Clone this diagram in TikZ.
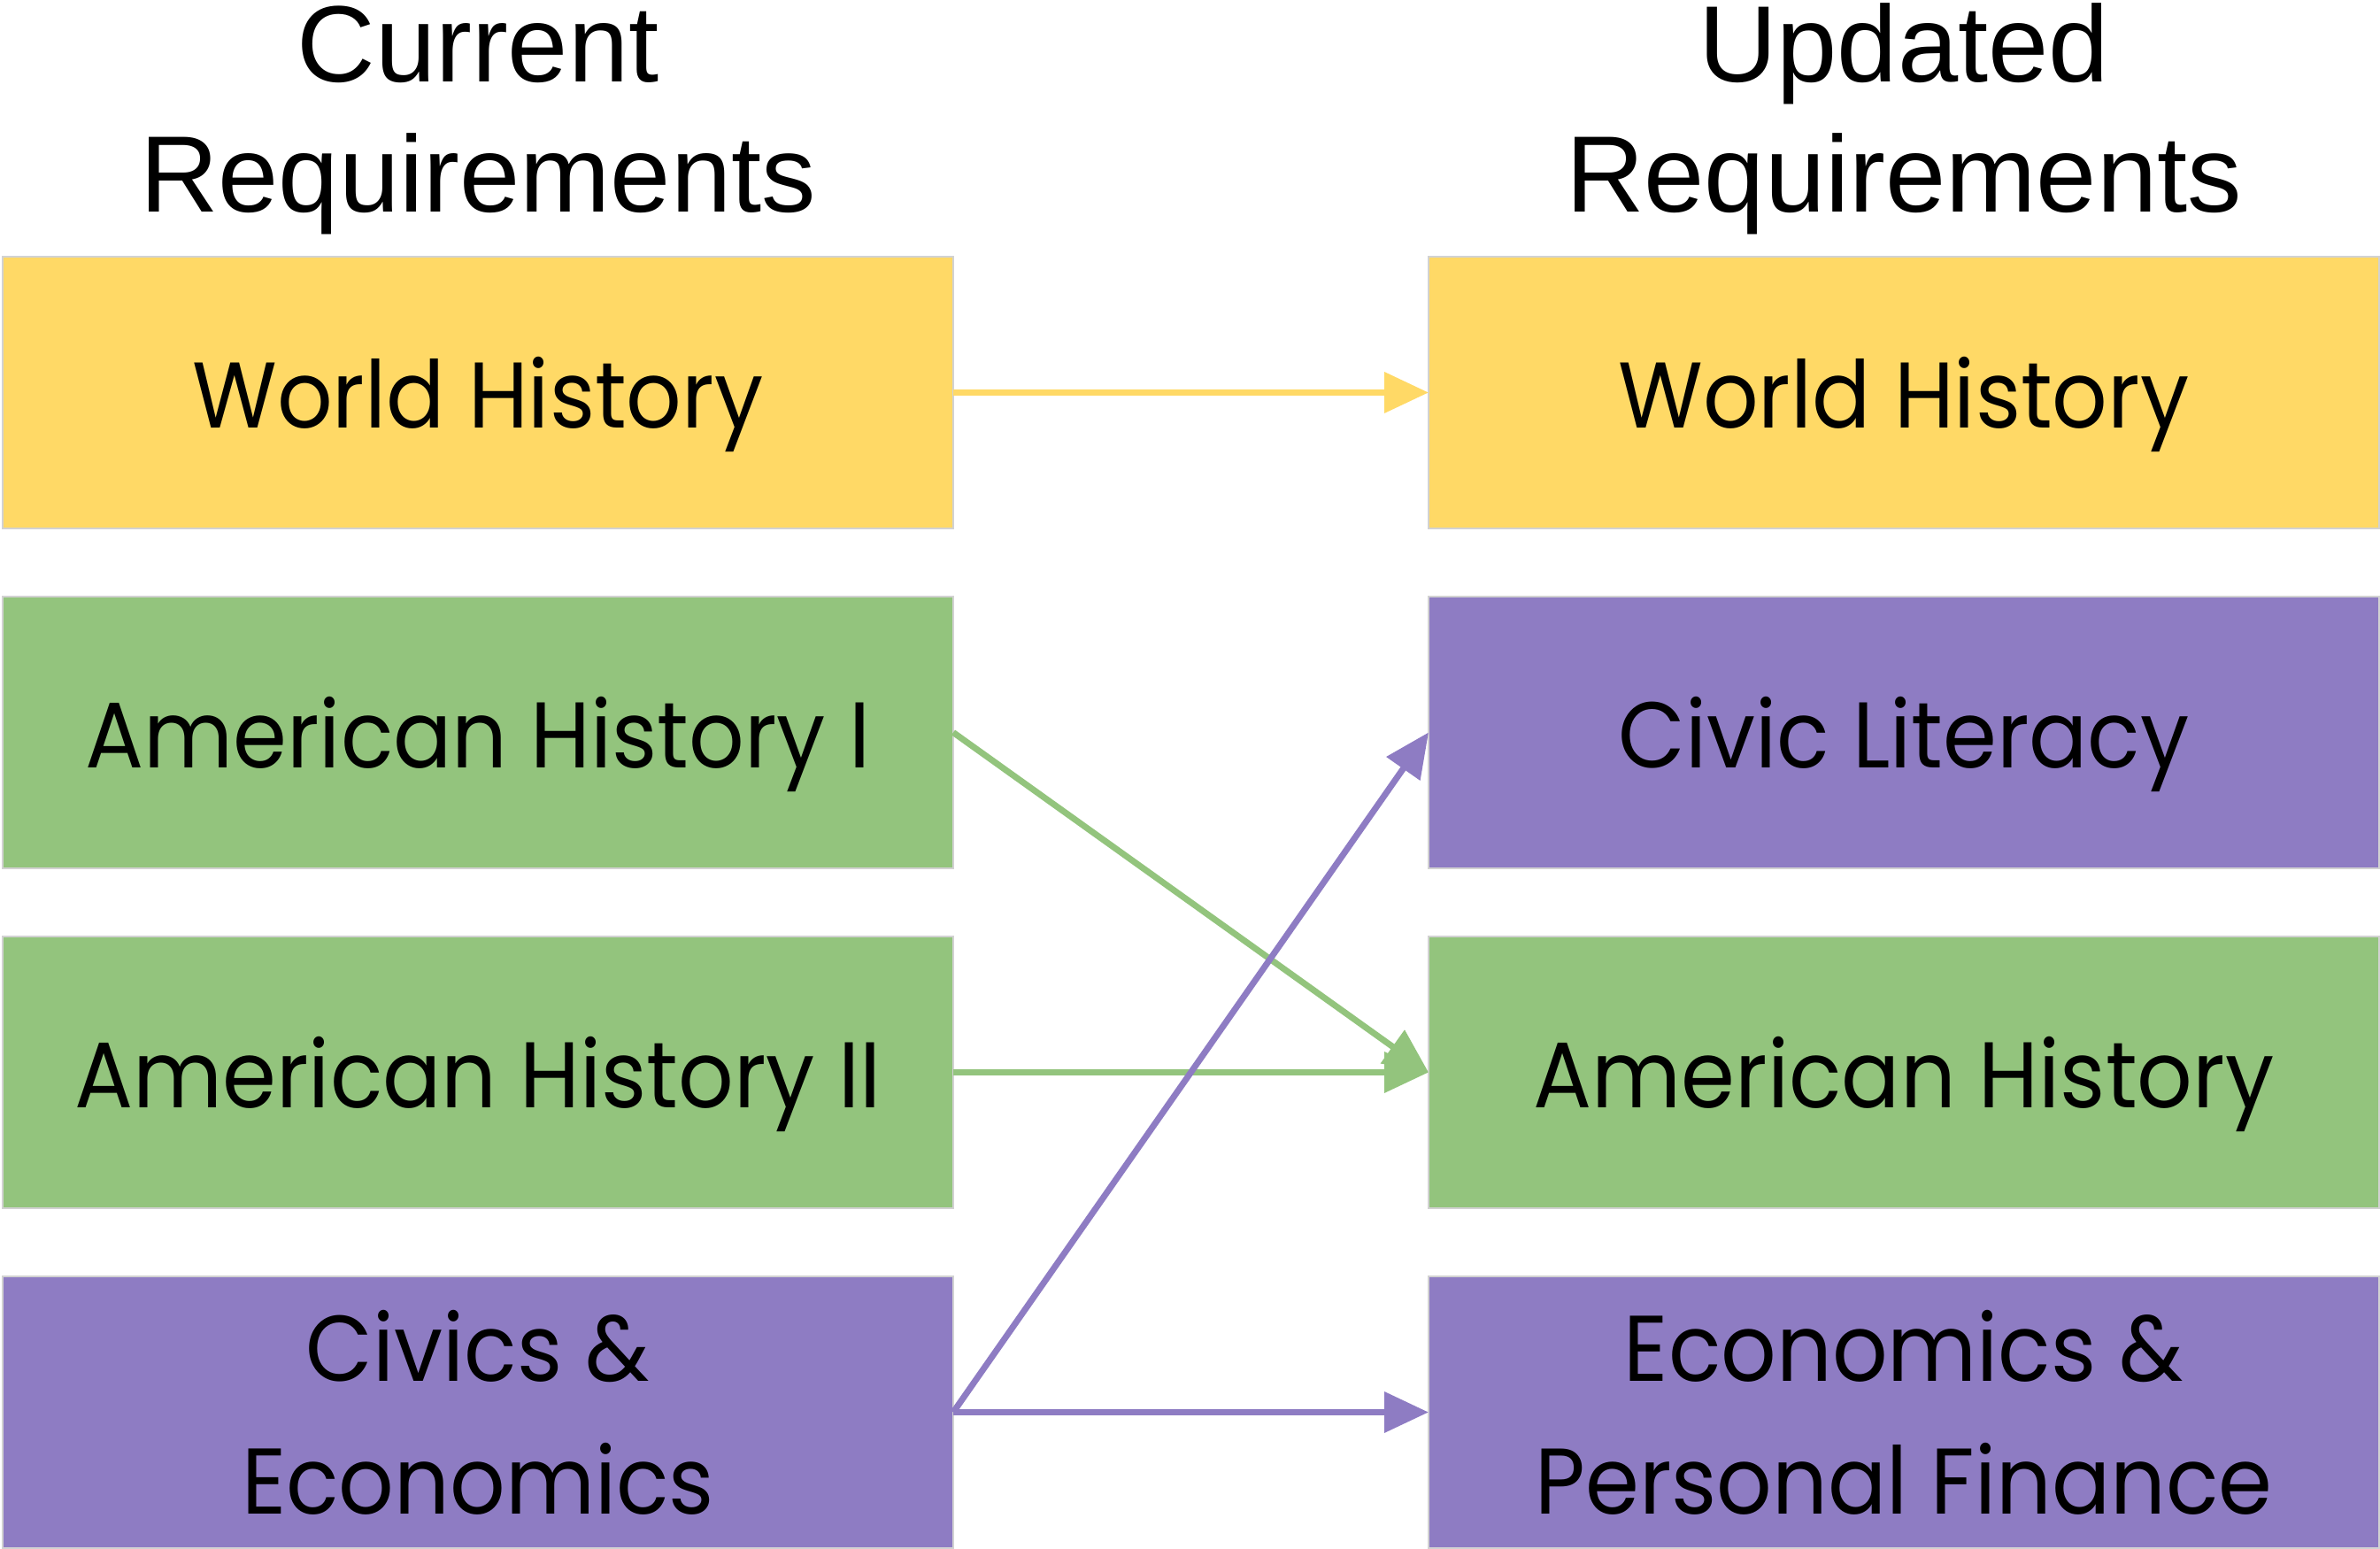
\documentclass[tikz,border=0pt]{standalone}
\usepackage{fontspec}
\setmainfont{Liberation Sans}
\newfontfamily\boxfont[FakeStretch=0.93]{Poppins}
\usepackage{tikz}
\usetikzlibrary{positioning}
\usetikzlibrary{shapes,arrows,calc,arrows.meta}
\definecolor{reqyellow}{HTML}{FFD966}
\definecolor{reqgreen}{HTML}{93C47D}
\definecolor{reqpurple}{HTML}{8E7CC3}

\begin{document}
\begin{tikzpicture}[node distance=0.77cm,
    req/.style={draw=gray!35, line width=0.3pt, rectangle, minimum width=10.74cm, minimum height=3.07cm,
      inner sep=0pt, outer sep=0pt, align=center, text depth=0pt, font=\boxfont\fontsize{30}{42.6}\selectfont},
    head/.style={align=center, inner sep=0pt, font=\fontsize{34.9}{42}\selectfont},
    link/.style={line width=2pt, -{Triangle[length=0.5cm, width=0.45cm]}}]
    \useasboundingbox (0,0) rectangle (26.89,-17.50);
    % Nodes
    \node [req, fill=reqyellow] (curWorld) at (5.40,-4.435) {World History};
    \node [req, fill=reqgreen, below=of curWorld] (curAmOne) {American History I};
    \node [req, fill=reqgreen, below=of curAmOne] (curAmTwo) {American History II};
    \node [req, fill=reqpurple, below=of curAmTwo] (curCivEcon) {Civics \&\\Economics};

    \node [req, fill=reqyellow, right=5.37cm of curWorld] (newWorld) {World History};
    \node [req, fill=reqpurple, below=of newWorld] (newCivic) {Civic Literacy};
    \node [req, fill=reqgreen, below=of newCivic] (newAm) {American History};
    \node [req, fill=reqpurple, below=of newAm] (newEconPF) {Economics \&\\Personal Finance};

    \node [head, above=0.24cm of curWorld] (curHead) {Current\\Requirements};
    \node [head, above=0.24cm of newWorld] (newHead) {Updated\\Requirements};
    % Arrows
    \draw [link, reqyellow] (curWorld.east) -- (newWorld.west);
    \draw [link, reqgreen] (curAmOne.east) -- (newAm.west);
    \draw [link, reqgreen] (curAmTwo.east) -- (newAm.west);
    \draw [link, reqpurple] (curCivEcon.east) -- (newCivic.west);
    \draw [link, reqpurple] (curCivEcon.east) -- (newEconPF.west);
\end{tikzpicture}
\end{document}
